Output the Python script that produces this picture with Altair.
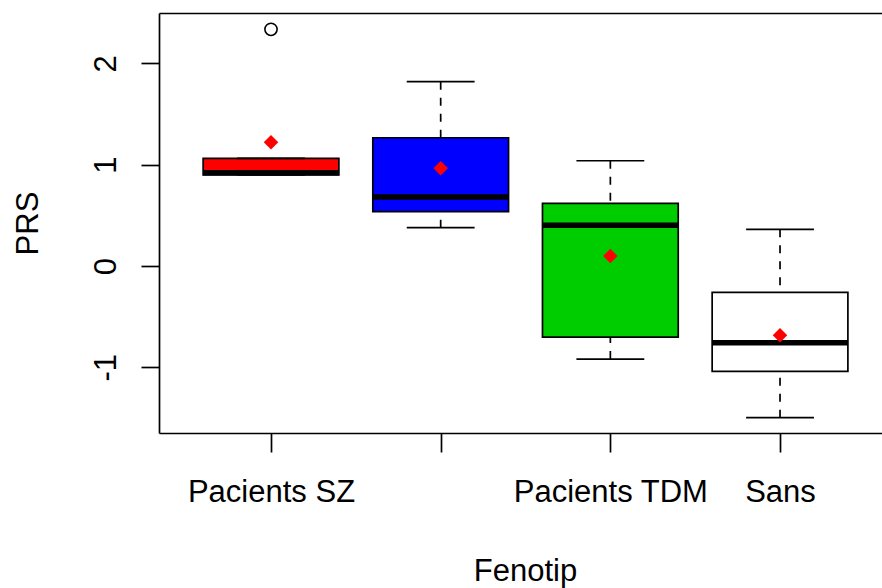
import altair as alt
import pandas as pd

# ---- data ----
groups = ["Pacients SZ", "Pacients TB", "Pacients TDM", "Sans"]
positions = [1, 2, 3, 4]
label_shown = [True, False, True, True]   # R dropped the 2nd label (overlap)
fills = ["#FF0000", "#0000FF", "#00CD00", "#FFFFFF"]
lower_whisker = [0.90, 0.378, -0.918, -1.497]
q1 = [0.90, 0.536, -0.701, -1.039]
median = [0.92, 0.681, 0.402, -0.757]
q3 = [1.063, 1.266, 0.619, -0.260]
upper_whisker = [1.063, 1.819, 1.039, 0.362]
means = [1.221, 0.964, 0.099, -0.684]
outlier_pos = [1]
outlier_val = [2.336]
y_ticks = [-1, 0, 1, 2]

df = pd.DataFrame({
    "group": groups, "pos": positions, "fill": fills,
    "lower": lower_whisker, "q1": q1, "median": median, "q3": q3,
    "upper": upper_whisker, "mean": means,
})
out_df = pd.DataFrame({"pos": outlier_pos, "value": outlier_val})

FONT = "Liberation Sans"
FS = 31
LW = 1.7

label_list = "[''," + ",".join(
    "'" + (g if s else "") + "'" for g, s in zip(groups, label_shown)) + "]"

x_scale = alt.Scale(domain=[0.3399, 4.601], nice=False, zero=False)
y_scale = alt.Scale(domain=[-1.648, 2.497], nice=False, zero=False)

x_axis_bottom = alt.Axis(
    orient="bottom", values=positions, labelExpr=label_list + "[datum.value]",
    labelFont=FONT, labelFontSize=FS, labelColor="black", labelAngle=0,
    labelPadding=25, labelFlush=False, labelOverlap=False, labelLimit=0,
    tickSize=19, tickWidth=LW, tickColor="black",
    domainWidth=LW, domainColor="black", grid=False,
    title="Fenotip", titleFont=FONT, titleFontSize=FS, titleFontWeight="normal",
    titleColor="black", titleX=366, titleY=147, titleBaseline="alphabetic",
    titleAlign="center",
)
x_axis_top = alt.Axis(
    orient="top", labels=False, ticks=False, domain=True, domainWidth=LW,
    domainColor="black", grid=False, title=None,
)
y_axis = alt.Axis(
    values=y_ticks, labelExpr="toString(datum.value)",
    labelFont=FONT, labelFontSize=FS, labelColor="black",
    labelAngle=270, labelAlign="center", labelBaseline="alphabetic",
    labelPadding=26, tickSize=18, tickWidth=LW, tickColor="black",
    domainWidth=LW, domainColor="black", grid=False,
    title="PRS", titleFont=FONT, titleFontSize=FS, titleFontWeight="normal",
    titleColor="black", titleAngle=270, titleX=-122, titleY=210,
    titleAlign="center", titleBaseline="alphabetic",
)

base = alt.Chart(df).transform_calculate(
    left="datum.pos - 0.4", right="datum.pos + 0.4",
    capl="datum.pos - 0.2", capr="datum.pos + 0.2",
)

boxes = base.mark_rect(stroke="black", strokeWidth=LW).encode(
    x=alt.X("left:Q", scale=x_scale, axis=x_axis_bottom),
    x2="right:Q",
    y=alt.Y("q1:Q", scale=y_scale, axis=y_axis),
    y2="q3:Q",
    fill=alt.Fill("fill:N", scale=None),
)

medians = base.mark_rule(color="black", strokeWidth=5.5).encode(
    x=alt.X("left:Q", scale=x_scale, axis=None), x2="right:Q",
    y=alt.Y("median:Q", scale=y_scale, axis=y_axis),
)

up_whisk = base.mark_rule(color="black", strokeWidth=LW, strokeDash=[8, 8]).encode(
    x=alt.X("pos:Q", scale=x_scale, axis=None),
    y=alt.Y("upper:Q", scale=y_scale, axis=y_axis), y2="q3:Q",
)
lo_whisk = base.mark_rule(color="black", strokeWidth=LW, strokeDash=[8, 8]).encode(
    x=alt.X("pos:Q", scale=x_scale, axis=None),
    y=alt.Y("lower:Q", scale=y_scale, axis=y_axis), y2="q1:Q",
)
up_cap = base.mark_rule(color="black", strokeWidth=LW).encode(
    x=alt.X("capl:Q", scale=x_scale, axis=None), x2="capr:Q",
    y=alt.Y("upper:Q", scale=y_scale, axis=y_axis),
)
lo_cap = base.mark_rule(color="black", strokeWidth=LW).encode(
    x=alt.X("capl:Q", scale=x_scale, axis=None), x2="capr:Q",
    y=alt.Y("lower:Q", scale=y_scale, axis=y_axis),
)

outliers = alt.Chart(out_df).mark_point(
    shape="circle", filled=False, size=150, stroke="black", strokeWidth=1.6, opacity=1
).encode(
    x=alt.X("pos:Q", scale=x_scale, axis=None),
    y=alt.Y("value:Q", scale=y_scale, axis=y_axis),
)

mean_pts = base.mark_point(
    shape="diamond", filled=True, size=210, color="#FF0000", opacity=1
).encode(
    x=alt.X("pos:Q", scale=x_scale, axis=x_axis_top),
    y=alt.Y("mean:Q", scale=y_scale, axis=y_axis),
)

chart = alt.layer(
    boxes, medians, up_whisk, lo_whisk, up_cap, lo_cap, outliers, mean_pts
).resolve_axis(x="independent").properties(
    width=723, height=420,
    autosize=alt.AutoSizeParams(type="none"),
    padding={"left": 159, "top": 13, "right": 0, "bottom": 155},
    background="white",
).configure_view(stroke=None)

chart.save("out.html", embed_options={"renderer": "svg", "actions": False})
